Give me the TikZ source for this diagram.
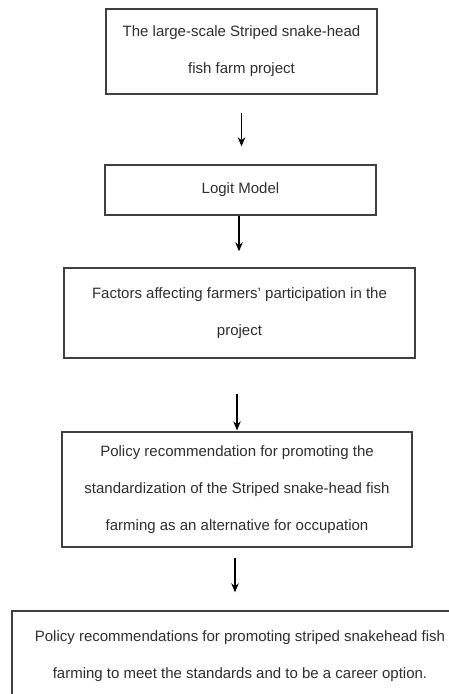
\documentclass[tikz,border=0pt]{standalone}
\usepackage{fontspec}
\setmainfont{Liberation Sans}
\usetikzlibrary{arrows.meta}
\definecolor{boxline}{HTML}{404040}
\definecolor{boxtext}{HTML}{2E2E2E}

\begin{document}
\begin{tikzpicture}[x=1pt, y=-1pt, >={Stealth[length=9pt, width=7.5pt]},
    stage/.style={draw=boxline, line width=1.4pt, inner sep=0pt, align=center,
        text=boxtext, font=\fontsize{15}{37}\selectfont},
    flow/.style={->, draw=black, line width=1.1pt}]

    \clip (0,0) rectangle (449,694);

    \node[stage, minimum width=271pt, minimum height=85pt] (b1) at (241.5,51.5)
        {The large-scale Striped snake-head\\fish farm project};
    \node[stage, minimum width=271pt, minimum height=50pt] (b2) at (240.5,190)
        {Logit Model};
    \node[stage, minimum width=351pt, minimum height=90pt] (b3) at (239.5,313)
        {Factors affecting farmers' participation in the\\project};
    \node[stage, minimum width=350pt, minimum height=115pt] (b4) at (237,489.5)
        {Policy recommendation for promoting the\\standardization of the Striped snake-head fish\\farming as an alternative for occupation};
    \node[stage, minimum width=456pt, minimum height=90pt] (b5) at (240,656)
        {Policy recommendations for promoting striped snakehead fish\\farming to meet the standards and to be a career option.};

    \draw[flow, shorten <=18pt, shorten >=18pt] (b1.south) -- (b1.south |- b2.north);
    \draw[flow, shorten <=0pt, shorten >=16pt] ([xshift=-1.5pt]b2.south) -- ([xshift=-1.5pt]b2.south |- b3.north);
    \draw[flow, shorten <=35pt, shorten >=1pt] ([xshift=-2.5pt]b3.south) -- ([xshift=-2.5pt]b3.south |- b4.north);
    \draw[flow, shorten <=10pt, shorten >=18pt] ([xshift=-2pt]b4.south) -- ([xshift=-2pt]b4.south |- b5.north);
\end{tikzpicture}
\end{document}
